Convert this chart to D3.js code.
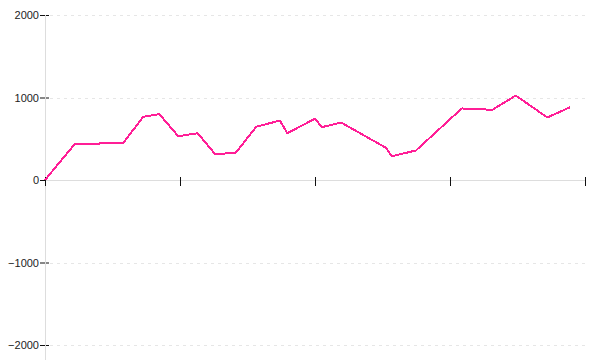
<!DOCTYPE html>
<html>
<head>
<meta charset="utf-8">
<script src="https://cdn.jsdelivr.net/npm/d3@7"></script>
<style>
  html, body { margin: 0; padding: 0; background: #fff; }
  svg { display: block; }
</style>
</head>
<body>
<svg id="chart" width="600" height="360"></svg>
<script>
// Data
const xValues = [0, 2.22, 3.96, 5.8, 7.28, 8.47, 9.87, 11.31, 12.59, 14.11, 15.65, 17.4, 17.95, 20.02, 20.5, 21.93, 25.26, 25.68, 27.48, 30.87, 32.37, 33.09, 34.87, 37.21, 38.89];
const yValues = [0, 439, 442, 451, 766, 798, 531, 567, 315, 327, 645, 721, 567, 745, 640, 697, 390, 288, 358, 867, 861, 846, 1024, 758, 882];
const xTicks = [0, 10, 20, 30, 40];
const yTicks = [-2000, -1000, 0, 1000, 2000];

(function () {
const svg = d3.select("#chart");
const mLeft = 45, mRight = 585, mTop = 15, mBottom = 345;

const x = d3.scaleLinear().domain([0, 40]).range([mLeft, mRight]);
const y = d3.scaleLinear().domain([-2000, 2000]).range([mBottom, mTop]);

// gridlines
svg.append("g").selectAll("line").data(yTicks.filter(d => d !== 0)).join("line")
  .attr("x1", mLeft + 5).attr("x2", mRight)
  .attr("y1", d => Math.round(y(d)) + 0.5).attr("y2", d => Math.round(y(d)) + 0.5)
  .attr("stroke", "#e6e6e6").attr("stroke-dasharray", "3,4");

// y axis
const yAxis = d3.axisLeft(y).tickValues(yTicks).tickSize(5).tickPadding(1).tickFormat(d3.format("d"));
const gy = svg.append("g").attr("transform", `translate(${mLeft},0)`).call(yAxis);
gy.select(".domain").remove();
gy.selectAll(".tick line").attr("x1", 4).attr("x2", -5).attr("stroke", "#111");
gy.selectAll(".tick text").attr("font-family", "'Liberation Sans', Arial, sans-serif").attr("font-size", 11).attr("fill", "#222");
svg.append("line").attr("x1", mLeft + 0.5).attr("x2", mLeft + 0.5).attr("y1", mTop).attr("y2", bottomEnd())
  .attr("stroke", "#dddddd");
function bottomEnd() { return 360; }

// x axis
const xAxis = d3.axisBottom(x).tickValues(xTicks).tickSize(6).tickFormat("");
const y0 = Math.round(y(0));
svg.append("line").attr("x1", mLeft).attr("x2", mRight).attr("y1", y0 + 0.5).attr("y2", y0 + 0.5)
  .attr("stroke", "#dddddd");
const gx = svg.append("g").attr("transform", `translate(0,${y0})`).call(xAxis);
gx.select(".domain").remove();
gx.selectAll(".tick line").attr("y1", -3).attr("y2", 6).attr("stroke", "#111");

// line
const data = xValues.map((d, i) => [d, yValues[i]]);
svg.append("path").datum(data)
  .attr("fill", "none").attr("stroke", "#ff1e96").attr("stroke-width", 2)
  .attr("stroke-linejoin", "round")
  .attr("shape-rendering", "crispEdges")
  .attr("d", d3.line().x(d => x(d[0])).y(d => y(d[1])));
})();
</script>
</body>
</html>
